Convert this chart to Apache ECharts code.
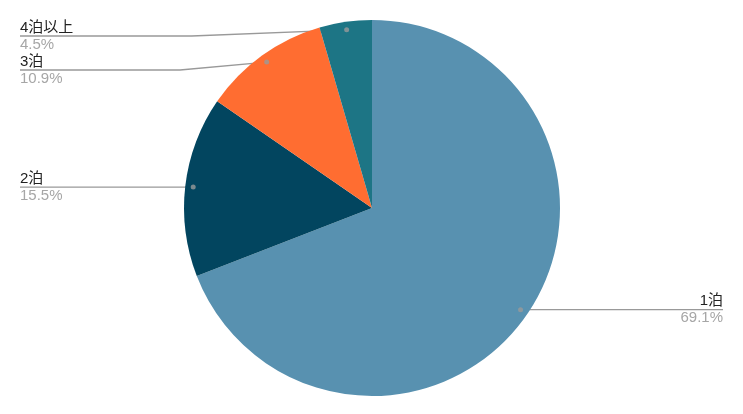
<!DOCTYPE html>
<html>
<head>
<meta charset="utf-8">
<script src="https://cdn.jsdelivr.net/npm/echarts@6/dist/echarts.min.js"></script>
<style>
  html, body { margin: 0; padding: 0; background: #fff; }
  #chart { width: 743px; height: 414px; }
</style>
</head>
<body>
<div id="chart"></div>
<script>
// 宿泊数の内訳
var categories = ['1泊', '2泊', '3泊', '4泊以上'];
var shares = [69.1, 15.5, 10.9, 4.5];
var colors = ['#5891b0', '#02455f', '#ff6d31', '#1d7585'];

var font = "'Liberation Sans', 'Noto Sans CJK JP', sans-serif";

var pieData = categories.map(function (name, i) {
  return { name: name, value: shares[i], itemStyle: { color: colors[i] } };
});

// label dots sit at the middle angle of each slice
var total = shares.reduce(function (a, b) { return a + b; }, 0);
var acc = 0;
var dotData = shares.map(function (v) {
  var mid = (acc + v / 2) / total * 100;
  acc += v;
  return [180, mid];
});

var myChart = echarts.init(document.getElementById('chart'));
myChart.setOption({
  animation: false,
  polar: { center: [372, 208], radius: 188 },
  angleAxis: { type: 'value', min: 0, max: 100, startAngle: 90, show: false },
  radiusAxis: { type: 'value', min: 0, max: 188, show: false },
  series: [{
    type: 'pie',
    center: [372, 208],
    radius: 188,
    startAngle: 90,
    silent: true,
    label: { show: false },
    labelLine: { show: false },
    data: pieData
  }, {
    // invisible inner ring that carries the labels; box starts lower so
    // the top labels get pushed down
    type: 'pie',
    left: 0,
    right: 0,
    top: 19,
    bottom: 0,
    center: [372, 189],
    radius: 180,
    startAngle: 90,
    silent: true,
    itemStyle: { color: 'rgba(0,0,0,0)' },
    label: {
      show: true,
      position: 'outside',
      alignTo: 'edge',
      edgeDistance: 20,
      formatter: function (p) {
        return '{name|' + p.name + '}\n{pct|' + p.value.toFixed(1) + '%}';
      },
      rich: {
        name: { fontFamily: font, fontSize: 15, color: '#222', lineHeight: 17 },
        pct: { fontFamily: font, fontSize: 15, color: '#a6a6a6', lineHeight: 17 }
      }
    },
    labelLine: {
      show: true,
      length: 0,
      length2: 0,
      lineStyle: { color: '#999', width: 1.3 }
    },
    // run the leader line on under the text, out to the edge
    labelLayout: function (params) {
      var pts = params.labelLinePoints;
      if (!pts) return {};
      var r = params.labelRect;
      var first = pts[0];
      var last = pts[pts.length - 1];
      var isLeft = last[0] < first[0];
      var y = last[1];
      var dy = Math.abs(y - first[1]);
      var midX = isLeft ? Math.min(first[0] - dy * 25, first[0]) : first[0];
      midX = isLeft ? Math.max(midX, 180) : midX;
      return {
        labelLinePoints: [
          first,
          [dy > 0.5 ? midX : first[0], y],
          [isLeft ? r.x : r.x + r.width, y]
        ]
      };
    },
    data: categories.map(function (name, i) { return { name: name, value: shares[i] }; })
  }, {
    type: 'scatter',
    coordinateSystem: 'polar',
    symbolSize: 5,
    silent: true,
    itemStyle: { color: '#9a9a9a' },
    data: dotData,
    z: 10
  }]
});
</script>
</body>
</html>
